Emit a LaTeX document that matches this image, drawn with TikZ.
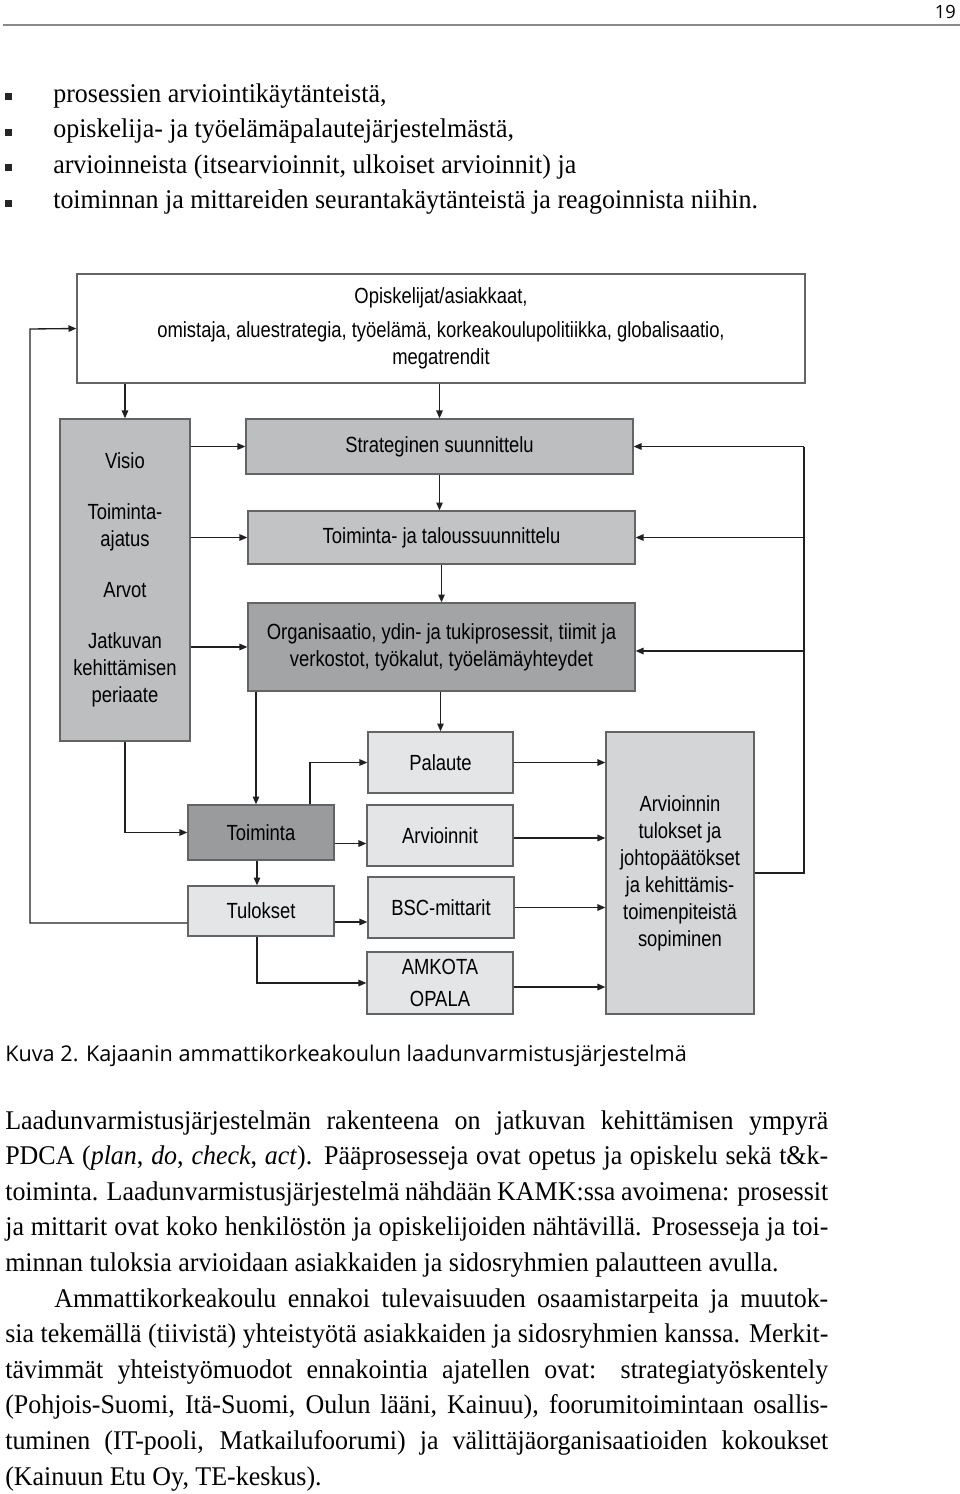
\documentclass[tikz,border=0pt]{standalone}
\usepackage{fontspec}
\newfontfamily\diagfont[FakeStretch=0.84]{Liberation Sans}
\newfontfamily\bodyfont[FakeStretch=0.962]{Liberation Serif}
\newfontfamily\capfont{Open Sans}
\usepackage{tikz}
\usetikzlibrary{arrows.meta, calc, positioning}
\newlength\pxu
\setlength\pxu{0.025cm}
\definecolor{boxline}{HTML}{636466}
\definecolor{arrowcol}{HTML}{231F20}
\definecolor{rulegrey}{HTML}{8A8A8A}
\definecolor{midgrey}{HTML}{BDBEC0}
\definecolor{midgreyb}{HTML}{C2C3C5}
\definecolor{darkgrey}{HTML}{A3A4A6}
\definecolor{darkergrey}{HTML}{9A9B9D}
\definecolor{palegrey}{HTML}{E4E5E7}
\definecolor{lightgrey}{HTML}{D4D5D7}

\begin{document}
\begin{tikzpicture}[
    x=0.025cm, y=-0.025cm,
    font=\diagfont\fontsize{15.6pt}{19.2pt}\selectfont,
    box/.style={draw=boxline, line width=0.9pt, align=center, inner sep=2pt},
    conn/.style={draw=arrowcol, line width=0.95pt, -{Triangle[length=5.6pt, width=4.6pt]}},
    line/.style={draw=arrowcol, line width=0.95pt},
    bodytxt/.style={font=\bodyfont\fontsize{19.2pt}{25pt}\selectfont, anchor=base west, inner sep=0pt},
    captxt/.style={font=\capfont\fontsize{15.4pt}{18pt}\selectfont, anchor=base west, inner sep=0pt}
]

% ---------- page ----------
\fill[white] (0,0) rectangle (960,1494);
\useasboundingbox (0,0) rectangle (960,1494);
\draw[rulegrey, line width=1.5pt] (3,25) -- (960,25);
\node[captxt, font=\capfont\fontsize{13pt}{15pt}\selectfont, anchor=base east] (pagenum) at (956,18) {19};

% ---------- bullet list ----------
\foreach \yy in {96.5,132,167.5,203}{
    \fill[black!85] (5,\yy-3.5) rectangle (12,\yy+3.5);
}
\node[bodytxt] (b1) at (53,102) {prosessien arviointikäytänteistä,};
\node[bodytxt] (b2) at (53,137.5) {opiskelija- ja työelämäpalautejärjestelmästä,};
\node[bodytxt] (b3) at (53,173) {arvioinneista (itsearvioinnit, ulkoiset arvioinnit) ja};
\node[bodytxt] (b4) at (53,208.5) {toiminnan ja mittareiden seurantakäytänteistä ja reagoinnista niihin.};

% ---------- boxes ----------
\node[box, fill=white, minimum width=728\pxu, minimum height=109\pxu] (top) at (441,328.5)
    {Opiskelijat/asiakkaat,\\[5pt]omistaja, aluestrategia, työelämä, korkeakoulupolitiikka, globalisaatio,\\megatrendit};
\node[box, fill=midgrey, minimum width=130\pxu, minimum height=322\pxu] (visio) at (125,580)
    {Visio\\[17pt]Toiminta-\\ajatus\\[17pt]Arvot\\[17pt]Jatkuvan\\kehittämisen\\periaate};
\node[box, fill=midgrey, minimum width=387\pxu, minimum height=55\pxu] (strat) at (439.5,446.5)
    {Strateginen suunnittelu};
\node[box, fill=midgreyb, minimum width=387\pxu, minimum height=53\pxu] (talous) at (441.5,537.5)
    {Toiminta- ja taloussuunnittelu};
\node[box, fill=darkgrey, minimum width=387\pxu, minimum height=88\pxu] (org) at (441.5,647)
    {Organisaatio, ydin- ja tukiprosessit, tiimit ja\\verkostot, työkalut, työelämäyhteydet};
\node[box, fill=darkergrey, minimum width=146\pxu, minimum height=55\pxu] (toim) at (261,832.5)
    {Toiminta};
\node[box, fill=palegrey, minimum width=146\pxu, minimum height=50\pxu] (tul) at (261,911)
    {Tulokset};
\node[box, fill=palegrey, minimum width=145\pxu, minimum height=61\pxu] (palaute) at (440.5,762.5)
    {Palaute};
\node[box, fill=palegrey, minimum width=146\pxu, minimum height=61\pxu] (arv) at (440,835.5)
    {Arvioinnit};
\node[box, fill=palegrey, minimum width=146\pxu, minimum height=61\pxu] (bsc) at (441,907.5)
    {BSC-mittarit};
\node[box, fill=palegrey, minimum width=146\pxu, minimum height=62\pxu] (amkota) at (440,983)
    {AMKOTA\\[4pt]OPALA};
\node[box, fill=lightgrey, minimum width=148\pxu, minimum height=282\pxu] (tulos) at (680,873)
    {Arvioinnin\\tulokset ja\\johtopäätökset\\ja kehittämis-\\toimenpiteistä\\sopiminen};

% ---------- connector end points ----------
\coordinate (loopL) at (30,329);
\coordinate (loopR) at (804,446.5);
\coordinate (toimN) at ($(toim.north)+(-5,0)$);
\coordinate (toimNR) at ($(toim.north)+(49,0)$);
\coordinate (toimE) at ($(toim.east)+(0,11)$);
\coordinate (toimS) at ($(toim.south)+(-4,0)$);
\coordinate (tulE) at ($(tul.east)+(0,11)$);
\coordinate (tulS) at ($(tul.south)+(-4,0)$);
\coordinate (tulW) at ($(tul.west)+(0,12)$);
\coordinate (arvE) at ($(arv.east)+(0,2.5)$);
\coordinate (amkE) at ($(amkota.east)+(0,4)$);
\coordinate (orgE) at ($(org.east)+(0,4)$);

% ---------- connectors ----------
\draw[conn] (top.south -| visio.north) -- (visio.north);
\draw[conn] (top.south -| strat.north) -- (strat.north);
\draw[conn] (visio.east |- strat.west) -- (strat.west);
\draw[conn] (visio.east |- talous.west) -- (talous.west);
\draw[conn] (visio.east |- org.west) -- (org.west);
\draw[conn] (strat.south) -- (strat.south |- talous.north);
\draw[conn] (talous.south) -- (talous.south |- org.north);
\draw[conn] (org.south -| palaute.north) -- (palaute.north);
\draw[conn] (org.south -| toimN) -- (toimN);
\draw[conn] (visio.south) |- (toim.west);
\draw[conn] (toimNR) |- (palaute.west);
\draw[conn] (toimE) -- (toimE -| arv.west);
\draw[conn] (toimS) -- (toimS |- tul.north);
\draw[conn] (tulE) -- (tulE -| bsc.west);
\draw[conn] (tulS) |- (amkota.west);
\draw[conn] (tulW) -| (loopL) -- (top.west);

\draw[conn] (palaute.east) -- (palaute.east -| tulos.west);
\draw[conn] (arvE) -- (arvE -| tulos.west);
\draw[conn] (bsc.east) -- (bsc.east -| tulos.west);
\draw[conn] (amkE) -- (amkE -| tulos.west);
\draw[line] (tulos.east) -| (loopR);
\draw[conn] (loopR) -- (strat.east);
\draw[conn] (loopR |- talous.east) -- (talous.east);
\draw[conn] (loopR |- orgE) -- (orgE);

% ---------- caption and text ----------
\node[captxt] (caption) at (5,1061) {Kuva 2. Kajaanin ammattikorkeakoulun laadunvarmistusjärjestelmä};

\node[bodytxt] (p1) at (5,1129) {\makebox[823\pxu][s]{Laadunvarmistusjärjestelmän rakenteena on jatkuvan kehittämisen ympyrä}};
\node[bodytxt] (p2) at (5,1164.6) {\makebox[823\pxu][s]{PDCA (\textit{plan}, \textit{do}, \textit{check}, \textit{act}). Pääprosesseja ovat opetus ja opiskelu sekä t\&k-}};
\node[bodytxt] (p3) at (5,1200.2) {\makebox[823\pxu][s]{toiminta. Laadunvarmistusjärjestelmä nähdään KAMK:ssa avoimena: prosessit}};
\node[bodytxt] (p4) at (5,1235.8) {\makebox[823\pxu][s]{ja mittarit ovat koko henkilöstön ja opiskelijoiden nähtävillä. Prosesseja ja toi-}};
\node[bodytxt] (p5) at (5,1271.4) {minnan tuloksia arvioidaan asiakkaiden ja sidosryhmien palautteen avulla.};
\node[bodytxt] (p6) at (54,1307) {\makebox[774\pxu][s]{Ammattikorkeakoulu ennakoi tulevaisuuden osaamistarpeita ja muutok-}};
\node[bodytxt] (p7) at (5,1342.6) {\makebox[823\pxu][s]{sia tekemällä (tiivistä) yhteistyötä asiakkaiden ja sidosryhmien kanssa. Merkit-}};
\node[bodytxt] (p8) at (5,1378.2) {\makebox[823\pxu][s]{tävimmät yhteistyömuodot ennakointia ajatellen ovat: strategiatyöskentely}};
\node[bodytxt] (p9) at (5,1413.8) {\makebox[823\pxu][s]{(Pohjois-Suomi, Itä-Suomi, Oulun lääni, Kainuu), foorumitoimintaan osallis-}};
\node[bodytxt] (p10) at (5,1449.4) {\makebox[823\pxu][s]{tuminen (IT-pooli, Matkailufoorumi) ja välittäjäorganisaatioiden kokoukset}};
\node[bodytxt] (p11) at (5,1485) {(Kainuun Etu Oy, TE-keskus).};

\end{tikzpicture}
\end{document}
